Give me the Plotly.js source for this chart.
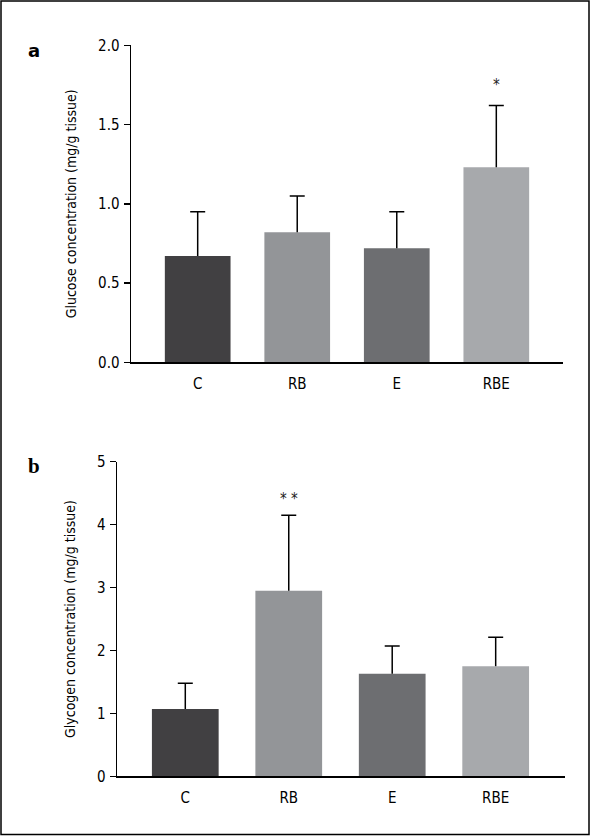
<!DOCTYPE html>
<html>
<head>
<meta charset="utf-8">
<script src="https://cdn.plot.ly/plotly-3.0.1.min.js"></script>
<style>html,body{margin:0;padding:0;background:#fff;}#chart{width:594px;height:836px;}</style>
</head>
<body>
<div id="chart"></div>
<script>
const categories = ["C", "RB", "E", "RBE"];
const glucoseMean = [0.67, 0.82, 0.72, 1.23];
const glucoseSD = [0.28, 0.23, 0.23, 0.39];
const glucoseSig = ["", "", "", "*"];
const glycogenMean = [1.07, 2.95, 1.63, 1.75];
const glycogenSD = [0.41, 1.20, 0.44, 0.46];
const glycogenSig = ["", "**", "", ""];
const glucoseTicks = [0, 0.5, 1.0, 1.5, 2.0];
const glycogenTicks = [0, 1, 2, 3, 4, 5];
const barColors = ["#414042", "#939598", "#6d6e71", "#a7a9ac"];

const W = 594, H = 836;
const FONT = "DejaVu Sans Condensed, Liberation Sans, sans-serif";

function barTrace(means, sds, xa, ya, width) {
  return {
    type: "bar", x: categories, y: means, xaxis: xa, yaxis: ya,
    marker: {color: barColors}, width: width,
    error_y: {type: "data", symmetric: false, array: sds, arrayminus: sds.map(() => 0), color: "#000", thickness: 1.5, width: 0},
    hoverinfo: "skip"
  };
}
function capTrace(means, sds, xa, ya) {
  return {
    type: "scatter", mode: "markers", x: categories, y: means.map((m, i) => m + sds[i]), xaxis: xa, yaxis: ya,
    marker: {size: 1, opacity: 0},
    error_y: {type: "data", array: sds.map(() => 0), color: "#000", thickness: 1.5, width: 7.5},
    hoverinfo: "skip"
  };
}

const traces = [
  barTrace(glucoseMean, glucoseSD, "x", "y", 0.66),
  capTrace(glucoseMean, glucoseSD, "x", "y"),
  barTrace(glycogenMean, glycogenSD, "x2", "y2", 0.645),
  capTrace(glycogenMean, glycogenSD, "x2", "y2")
];

const annotations = [];
categories.forEach((c, i) => {
  if (glucoseSig[i]) annotations.push({xref: "x", yref: "y", x: c, y: glucoseMean[i] + glucoseSD[i] + 0.13, text: glucoseSig[i], showarrow: false, font: {family: FONT, size: 15, color: "#222"}});
  if (glycogenSig[i]) annotations.push({xref: "x2", yref: "y2", x: c, y: glycogenMean[i] + glycogenSD[i] + 0.26, text: glycogenSig[i].split("").join(" "), showarrow: false, font: {family: FONT, size: 15, color: "#222"}});
});
annotations.push({xref: "paper", yref: "paper", x: 34 / W, y: 1 - 50 / H, text: "<b>a</b>", showarrow: false, xanchor: "center", yanchor: "middle", font: {family: "DejaVu Sans", size: 18, color: "#000", weight: "bold"}});
annotations.push({xref: "paper", yref: "paper", x: 34 / W, y: 1 - 466 / H, text: "<b>b</b>", showarrow: false, xanchor: "center", yanchor: "middle", font: {family: "Liberation Serif, serif", size: 21, color: "#000"}});

const xCommon = {
  type: "category", showline: true, linecolor: "#000", linewidth: 1.5,
  ticks: "", showgrid: false, zeroline: false, ticklabelstandoff: 7,
  tickfont: {family: FONT, size: 15, color: "#000"}, fixedrange: true
};
const yCommon = {
  showline: true, linecolor: "#000", linewidth: 1.5, ticks: "outside", ticklen: 6,
  tickwidth: 1.5, tickcolor: "#000", showgrid: false, zeroline: false,
  tickfont: {family: FONT, size: 15, color: "#000"}, fixedrange: true, ticklabelstandoff: 1
};
const titleFont = {family: FONT, size: 14, color: "#000"};

const layout = {
  width: W, height: H,
  margin: {l: 0, r: 0, t: 0, b: 0},
  paper_bgcolor: "#fff", plot_bgcolor: "#fff",
  showlegend: false,
  xaxis: Object.assign({}, xCommon, {domain: [131 / W, 563 / W], range: [-0.67, 3.67], anchor: "y"}),
  yaxis: Object.assign({}, yCommon, {domain: [1 - 362.3 / H, 1 - 45.3 / H], range: [0, 2.0], tickvals: glucoseTicks, ticktext: glucoseTicks.map(v => v.toFixed(1)), anchor: "x",
    title: {text: "Glucose concentration (mg/g tissue)", standoff: 18, font: titleFont}}),
  xaxis2: Object.assign({}, xCommon, {domain: [117 / W, 565 / W], range: [-0.66, 3.67], anchor: "y2"}),
  yaxis2: Object.assign({}, yCommon, {domain: [1 - 776.3 / H, 1 - 461.7 / H], range: [0, 5], tickvals: glycogenTicks, ticktext: glycogenTicks.map(String), anchor: "x2",
    title: {text: "Glycogen concentration (mg/g tissue)", standoff: 18, font: titleFont}}),
  annotations: annotations,
  shapes: [{type: "rect", xref: "paper", yref: "paper", x0: 1 / W, x1: 589 / W, y0: 1 - 834.5 / H, y1: 1 - 1 / H, line: {color: "#000", width: 1.5}}]
};

Plotly.newPlot("chart", traces, layout, {displayModeBar: false, staticPlot: true});
</script>
</body>
</html>
